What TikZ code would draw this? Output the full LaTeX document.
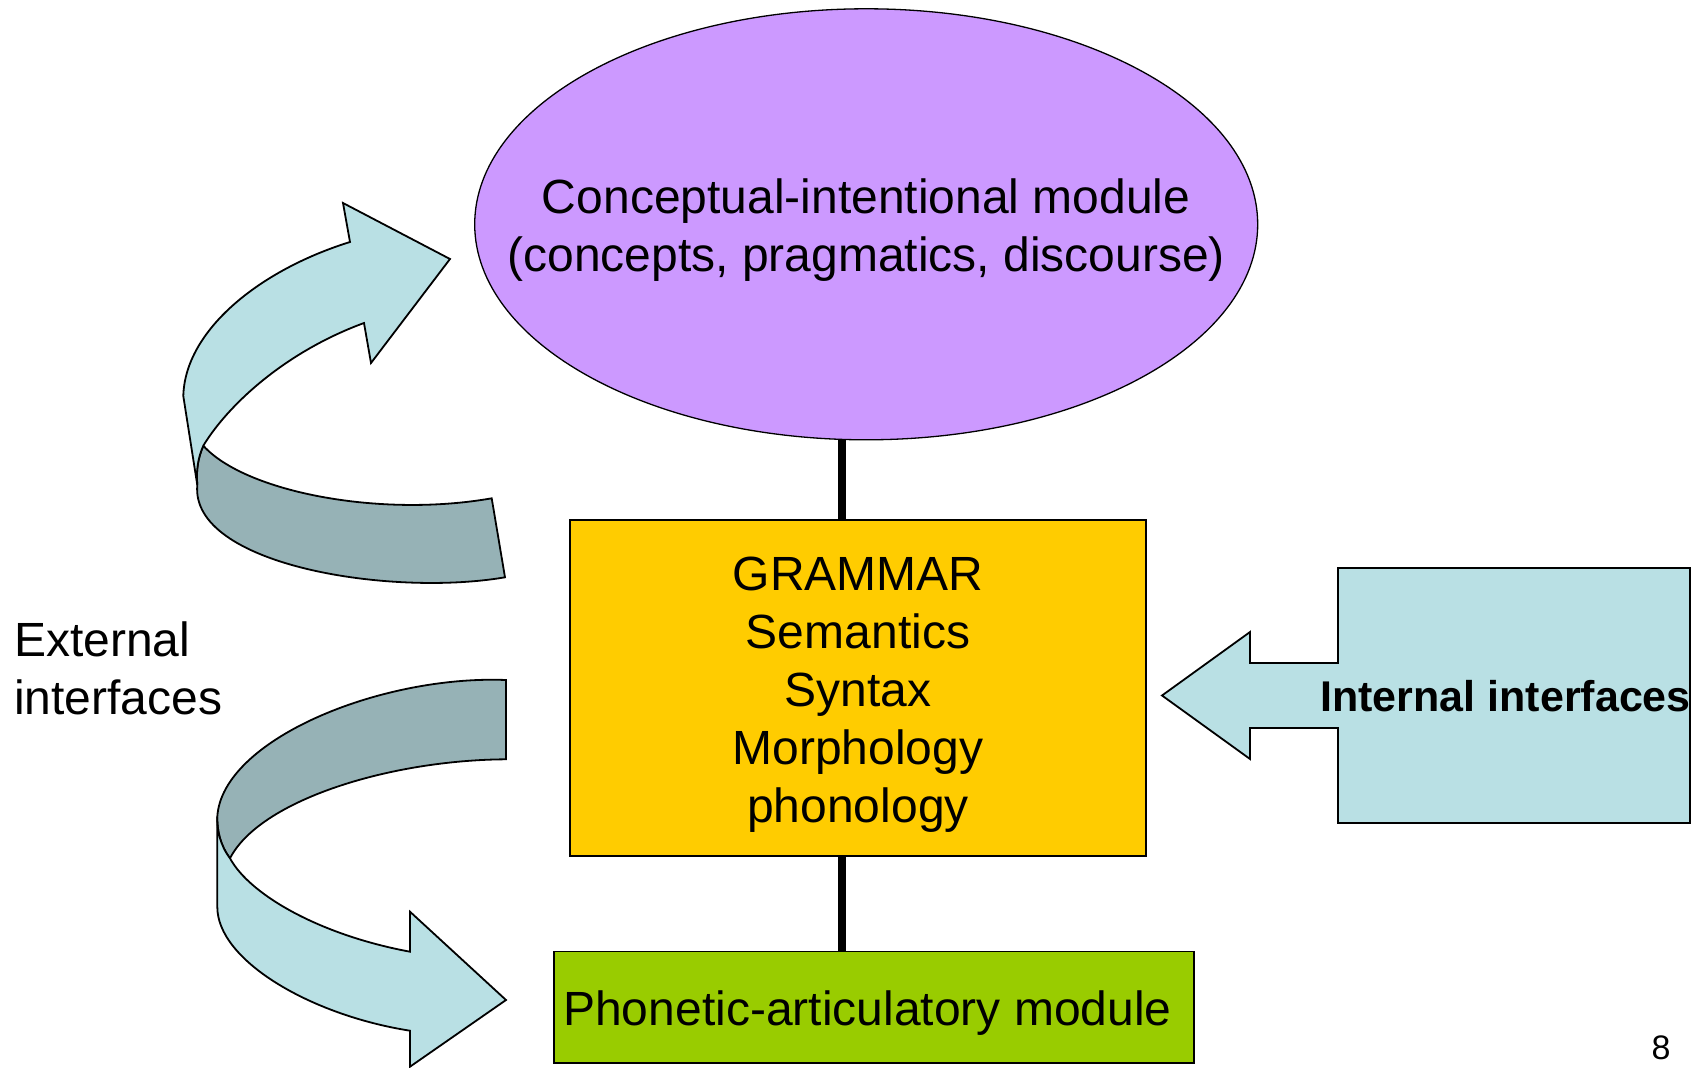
\documentclass[tikz,border=0pt]{standalone}
\usepackage{fontspec}
\setmainfont{Liberation Sans}
\usetikzlibrary{shapes.geometric}
\definecolor{lightband}{RGB}{185,224,228}
\definecolor{darkband}{RGB}{150,178,182}
\definecolor{cifill}{RGB}{204,153,255}
\definecolor{gramfill}{RGB}{255,204,0}
\definecolor{pafill}{RGB}{153,204,0}
\begin{document}
\begin{tikzpicture}[x=1pt,y=-1pt,
  bigtxt/.style={font=\fontsize{48}{58}\selectfont, inner sep=0pt},
  outl/.style={draw=black, line width=1.8pt, line join=miter},
  lightpart/.style={outl, fill=lightband},
  darkpart/.style={outl, fill=darkband},
  conn/.style={draw=black, line width=7.5pt}]
\useasboundingbox (0,0) rectangle (1703,1068);

% main shapes
\node[ellipse, draw=black, line width=1.3pt, fill=cifill, minimum width=783pt, minimum height=431pt, inner sep=0pt] (ci) at (866.2,224.3) {};
\node[rectangle, outl, fill=gramfill, minimum width=575.6pt, minimum height=335.6pt, inner sep=0pt] (gram) at (858,688) {};
\node[rectangle, outl, fill=pafill, minimum width=639.7pt, minimum height=111.9pt, inner sep=0pt] (pa) at (873.8,1007.4) {};

% texts
\node[bigtxt, align=center, yshift=-6pt] (citxt) at (ci.center)
  {Conceptual-intentional module\\(concepts, pragmatics, discourse)};
\node[bigtxt, align=center, yshift=-7pt] (gramtxt) at (gram.center)
  {GRAMMAR\\Semantics\\Syntax\\Morphology\\phonology};
\node[bigtxt, anchor=base west, xshift=10pt, yshift=-17.6pt] (patxt) at (pa.west)
  {Phonetic-articulatory module};

% connectors
\coordinate (lx) at (841.8,0);
\draw[conn] (ci.south -| lx) -- (gram.north -| lx);
\draw[conn] (gram.south -| lx) -- (pa.north -| lx);

% internal interfaces callout
\draw[lightpart] (1338,568) -- (1690,568) -- (1690,823) -- (1338,823) -- (1338,728) -- (1250,728) -- (1250,759) -- (1162,695.5) -- (1250,632) -- (1250,663) -- (1338,663) -- cycle;
\node[anchor=east, inner sep=0pt, font=\fontsize{43}{50}\selectfont\bfseries] (intl) at (1691,696) {Internal interfaces};

% external interfaces label
\node[anchor=west, bigtxt, align=left] (extl) at (14,668.5) {External\\interfaces};

% upper curved arrow
\coordinate (uA) at (350,242);
\coordinate (uB) at (343,203);
\coordinate (uC) at (450,259);
\coordinate (uD) at (371,363);
\coordinate (uE) at (364,323);
\coordinate (uF) at (203.3,445.7);
\coordinate (uG) at (197.3,485);
\coordinate (uH) at (183.3,396);
\coordinate (uI) at (491.7,498.3);
\coordinate (uJ) at (505,577.3);
\draw[darkpart] (uF) .. controls (245,492) and (380,518) .. (uI) -- (uJ)
  .. controls (390,597) and (190,565) .. (uG)
  .. controls (196,470) and (198,458) .. (uF) -- cycle;
\draw[lightpart] (uA) .. controls (260,270) and (185,330) .. (uH) -- (uG)
  .. controls (196,470) and (198,458) .. (uF)
  .. controls (228,405) and (285,352) .. (uE) -- (uD) -- (uC) -- (uB) -- cycle;

% lower curved arrow
\coordinate (lP) at (506,680);
\coordinate (lQ) at (506,759.3);
\coordinate (lF) at (230,858.3);
\coordinate (lL) at (217.3,816.7);
\coordinate (lM) at (217.3,906.7);
\coordinate (lO) at (410,1030.7);
\coordinate (lR) at (410,1066.7);
\coordinate (lT) at (506,1000);
\coordinate (lS) at (410,911.7);
\coordinate (lU) at (410,951.7);
\draw[darkpart] (lP) -- (lQ) .. controls (390,760) and (260,800) .. (lF)
  .. controls (220,845) and (217,830) .. (lL)
  .. controls (222,740) and (380,675) .. (lP) -- cycle;
\draw[lightpart] (lL) -- (lM) .. controls (217,960) and (310,1015) .. (lO)
  -- (lR) -- (lT) -- (lS) -- (lU)
  .. controls (320,935) and (250,895) .. (lF)
  .. controls (220,845) and (217,830) .. (lL) -- cycle;

% page number
\node[inner sep=0pt, font=\fontsize{34}{40}\selectfont] (pnum) at (1661,1048) {8};
\end{tikzpicture}
\end{document}
